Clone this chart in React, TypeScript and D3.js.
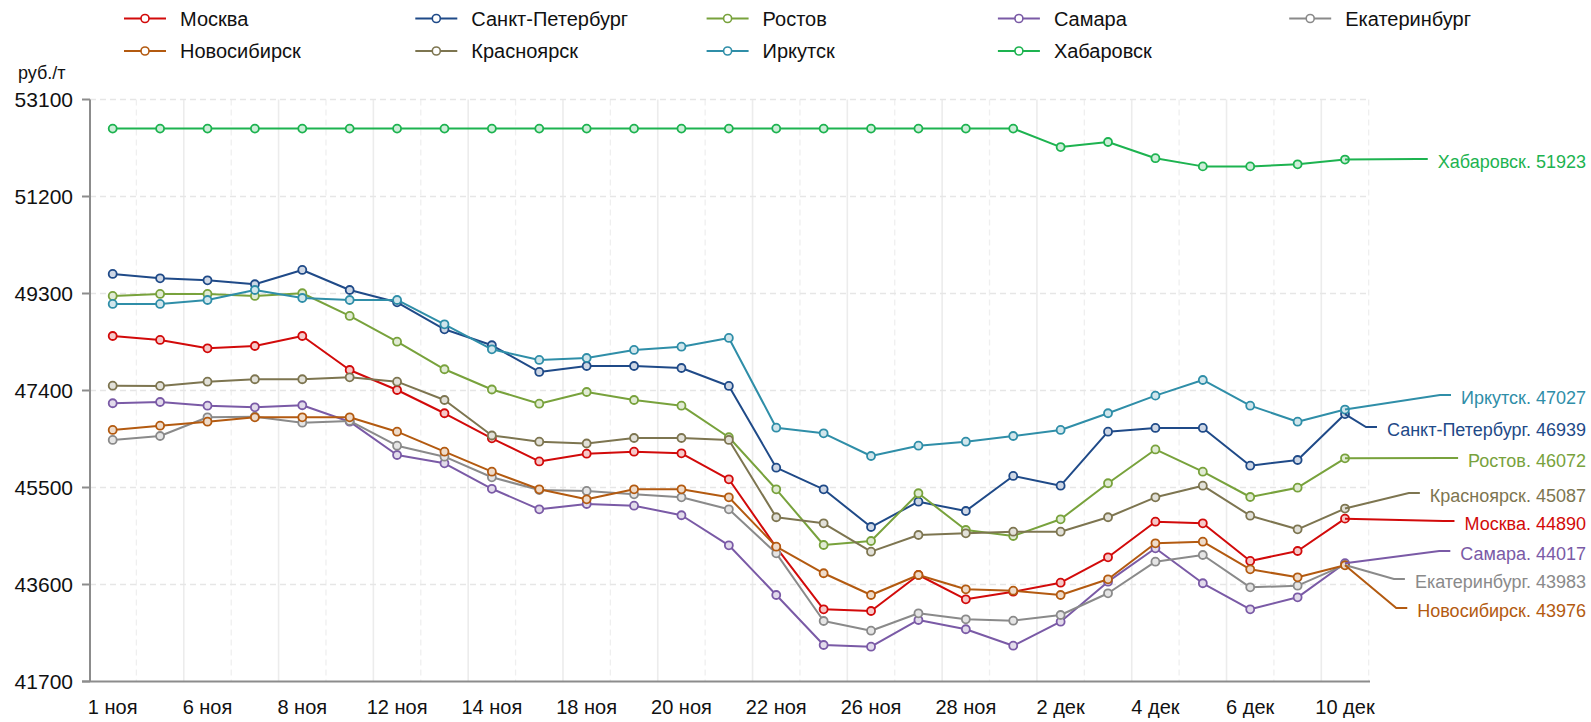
import React, { useEffect, useRef } from 'react';
import * as d3 from 'd3';

const tickLabels = ['1 ноя', '6 ноя', '8 ноя', '12 ноя', '14 ноя', '18 ноя', '20 ноя', '22 ноя', '26 ноя', '28 ноя', '2 дек', '4 дек', '6 дек', '10 дек'];
const yTicks = [41700, 43600, 45500, 47400, 49300, 51200, 53100];

const moscow = [48468, 48390, 48227, 48272, 48468, 47802, 47410, 46954, 46464, 46010, 46162, 46202, 46170, 45661, 44329, 43114, 43081, 43786, 43310, 43459, 43635, 44133, 44830, 44799, 44061, 44256, 44890];
const spb = [49683, 49598, 49559, 49481, 49761, 49369, 49128, 48599, 48286, 47763, 47880, 47880, 47841, 47489, 45888, 45465, 44726, 45222, 45040, 45726, 45536, 46593, 46666, 46666, 45927, 46039, 46939];
const rostov = [49252, 49291, 49291, 49252, 49305, 48860, 48356, 47816, 47420, 47142, 47371, 47214, 47103, 46484, 45465, 44374, 44452, 45387, 44668, 44550, 44877, 45583, 46245, 45810, 45314, 45496, 46072];
const samara = [47150, 47175, 47103, 47071, 47111, 46789, 46137, 45974, 45475, 45073, 45177, 45144, 44956, 44368, 43394, 42415, 42382, 42905, 42723, 42401, 42871, 43655, 44309, 43624, 43114, 43349, 44017];
const ekb = [46431, 46509, 46875, 46887, 46770, 46803, 46319, 46104, 45700, 45451, 45432, 45367, 45308, 45073, 44211, 42885, 42695, 43036, 42918, 42891, 43003, 43428, 44047, 44178, 43545, 43577, 43983];
const nsk = [46627, 46711, 46789, 46875, 46875, 46875, 46593, 46202, 45810, 45465, 45269, 45465, 45465, 45308, 44341, 43820, 43394, 43786, 43506, 43479, 43394, 43702, 44407, 44439, 43898, 43741, 43976];
const krsk = [47494, 47489, 47573, 47620, 47620, 47659, 47573, 47214, 46519, 46397, 46362, 46470, 46470, 46431, 44917, 44799, 44243, 44570, 44603, 44634, 44634, 44917, 45308, 45536, 44948, 44681, 45087];
const irk = [49095, 49095, 49173, 49369, 49212, 49173, 49173, 48697, 48207, 47998, 48037, 48194, 48258, 48429, 46672, 46562, 46117, 46319, 46397, 46509, 46627, 46954, 47299, 47606, 47103, 46789, 47027];
const khab = [52530, 52530, 52530, 52530, 52530, 52530, 52530, 52530, 52530, 52530, 52530, 52530, 52530, 52530, 52530, 52530, 52530, 52530, 52530, 52530, 52168, 52268, 51950, 51790, 51790, 51830, 51923];

const seriesNames = ['Москва', 'Санкт-Петербург', 'Ростов', 'Самара', 'Екатеринбург', 'Новосибирск', 'Красноярск', 'Иркутск', 'Хабаровск'];
const seriesValues = [moscow, spb, rostov, samara, ekb, nsk, krsk, irk, khab];
const seriesColors = ['#d20a0a', '#1f4a88', '#78a23c', '#7a5aa6', '#8a8a8a', '#b35a10', '#7d7550', '#2f8ea8', '#1db350'];
// vertical centre of the end label of each series
const endLabelY = [524, 430, 461, 554, 582, 611, 496, 398, 162];

const FONT = "'Liberation Sans', Arial, sans-serif";

export default function App() {
  const ref = useRef<SVGSVGElement>(null);
  useEffect(() => {
    const svg = d3.select(ref.current);
    svg.selectAll('*').remove();
    const N = moscow.length;
    const x = d3.scaleLinear().domain([0, N - 1]).range([112.7, 1345]);
    const y = d3.scaleLinear().domain([41700, 53100]).range([681.5, 99.5]);
    const left = 90, right = 1370, top = y(53100), bottom = y(41700);

    const grid = svg.append('g');
    d3.range(N).forEach(i => {
      const gx = x(i + 0.5);
      grid.append('line').attr('x1', gx).attr('x2', gx).attr('y1', top).attr('y2', bottom)
        .attr('stroke', i % 2 === 1 ? '#ececec' : '#efefef')
        .attr('stroke-width', i % 2 === 1 ? 1.6 : 1.3)
        .attr('stroke-dasharray', i % 2 === 1 ? null : '6,4');
    });
    yTicks.slice(1).forEach(v => {
      grid.append('line').attr('x1', left).attr('x2', right).attr('y1', y(v)).attr('y2', y(v))
        .attr('stroke', '#e6e6e6').attr('stroke-width', 1.5).attr('stroke-dasharray', '6,4');
    });

    const axis = svg.append('g');
    axis.append('line').attr('x1', left).attr('x2', left).attr('y1', top).attr('y2', bottom)
      .attr('stroke', '#8c8c8c').attr('stroke-width', 2);
    axis.append('line').attr('x1', 82).attr('x2', right).attr('y1', bottom).attr('y2', bottom)
      .attr('stroke', '#8c8c8c').attr('stroke-width', 2);
    yTicks.forEach(v => {
      axis.append('line').attr('x1', 82).attr('x2', left).attr('y1', y(v)).attr('y2', y(v))
        .attr('stroke', '#8c8c8c').attr('stroke-width', 2);
      axis.append('text').attr('x', 73).attr('y', y(v)).attr('text-anchor', 'end')
        .attr('dominant-baseline', 'central').attr('font-size', 21).attr('font-family', FONT)
        .attr('fill', '#111').text(String(v));
    });
    tickLabels.forEach((t, k) => {
      axis.append('text').attr('x', x(k * 2)).attr('y', 707).attr('text-anchor', 'middle')
        .attr('dominant-baseline', 'central').attr('font-size', 20).attr('font-family', FONT)
        .attr('fill', '#111').text(t);
    });
    axis.append('text').attr('x', 18).attr('y', 73).attr('dominant-baseline', 'central')
      .attr('font-size', 18).attr('font-family', FONT).attr('fill', '#111').text('руб./т');

    const line = d3.line<number>().x((_, i) => x(i)).y(d => y(d));
    const plot = svg.append('g');
    seriesValues.forEach((vals, s) => {
      const c = seriesColors[s];
      const tint = d3.interpolateRgb(c, '#ffffff')(0.78);
      plot.append('path').attr('d', line(vals)).attr('fill', 'none').attr('stroke', c)
        .attr('stroke-width', 2).attr('stroke-linejoin', 'round');
      vals.forEach((v, i) => {
        plot.append('circle').attr('cx', x(i)).attr('cy', y(v)).attr('r', 4)
          .attr('fill', tint).attr('stroke', c).attr('stroke-width', 1.8);
      });
    });

    const labels = svg.append('g');
    seriesValues.forEach((vals, s) => {
      const c = seriesColors[s];
      const ly = endLabelY[s];
      const last = vals[vals.length - 1];
      const t = labels.append('text').attr('x', 1586).attr('y', ly).attr('text-anchor', 'end')
        .attr('dominant-baseline', 'central').attr('font-size', 18).attr('font-family', FONT)
        .attr('fill', c).text(`${seriesNames[s]}. ${last}`);
      const bb = (t.node() as SVGTextElement).getBBox();
      const ex = bb.x - 10;
      const pts: [number, number][] = [[x(vals.length - 1), y(last)], [ex - 11, ly - 3], [ex, ly - 3]];
      labels.append('path').attr('d', d3.line()(pts)).attr('fill', 'none').attr('stroke', c).attr('stroke-width', 2);
    });

    const legend = svg.append('g');
    seriesNames.forEach((name, s) => {
      const col = s % 5, row = Math.floor(s / 5);
      const lx = 124 + col * 291.3;
      const ly = row === 0 ? 18.5 : 51;
      const c = seriesColors[s];
      legend.append('line').attr('x1', lx).attr('x2', lx + 42).attr('y1', ly).attr('y2', ly)
        .attr('stroke', c).attr('stroke-width', 2);
      legend.append('circle').attr('cx', lx + 21).attr('cy', ly).attr('r', 4).attr('fill', '#fff')
        .attr('stroke', c).attr('stroke-width', 1.6);
      legend.append('text').attr('x', lx + 56).attr('y', ly).attr('dominant-baseline', 'central')
        .attr('font-size', 20).attr('font-family', FONT).attr('fill', '#111').text(name);
    });
  }, []);
  return (
    <svg ref={ref} width={1591} height={722}
      style={{ position: 'absolute', left: 0, top: 0, background: '#fff' }} />
  );
}
